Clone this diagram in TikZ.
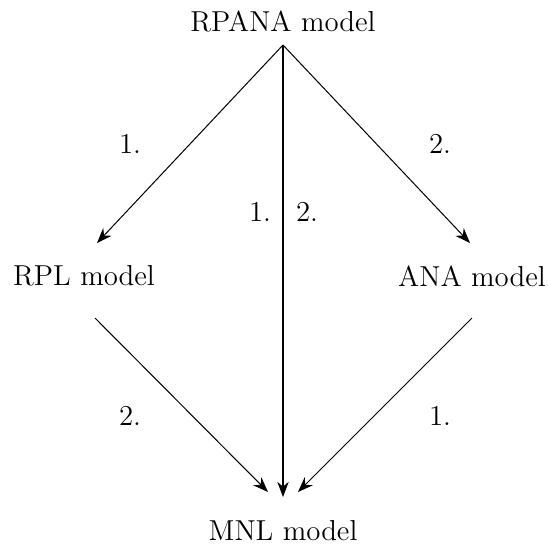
\documentclass[tikz,border=0pt]{standalone}
\usepackage{tikz}
\usetikzlibrary{arrows.meta,calc}

\begin{document}
\begin{tikzpicture}[x=0.395pt, y=-0.395pt, >={Stealth[length=6pt,width=4.5pt]},
    every node/.style={font=\fontsize{11.4}{13.7}\selectfont}]
    \useasboundingbox (0,0) rectangle (548,549);

    % Models
    \node (rpana) at (283,21) {RPANA model};
    \node (rpl) at (84,276) {RPL model};
    \node (ana) at (472,276) {ANA model};
    \node (mnl) at (283,531) {MNL model};

    % Ends of the arrows
    \coordinate (rpanaout) at ($(rpana)+(0,24)$);
    \coordinate (rplin) at ($(rpl)+(13,-33)$);
    \coordinate (rplout) at ($(rpl)+(11,42)$);
    \coordinate (anain) at ($(ana)+(-2,-33)$);
    \coordinate (anaout) at ($(ana)+(0,42)$);
    \coordinate (mnlin) at ($(mnl)+(0,-34)$);
    \coordinate (mnlinl) at ($(mnl)+(-15,-39)$);
    \coordinate (mnlinr) at ($(mnl)+(15,-39)$);

    % Arrows
    \draw[->] (rpanaout) -- (rplin);
    \draw[->] (rpanaout) -- (anain);
    \draw[->] (rpanaout) -- (mnlin);
    \draw[->] (rplout) -- (mnlinl);
    \draw[->] (anaout) -- (mnlinr);

    % Steps
    \node (s1) at (130,144) {1.};
    \node (s2) at (440,144) {2.};
    \node (s3) at (260,212) {1.};
    \node (s4) at (307,212) {2.};
    \node (s5) at (130,416) {2.};
    \node (s6) at (440,416) {1.};
\end{tikzpicture}
\end{document}
